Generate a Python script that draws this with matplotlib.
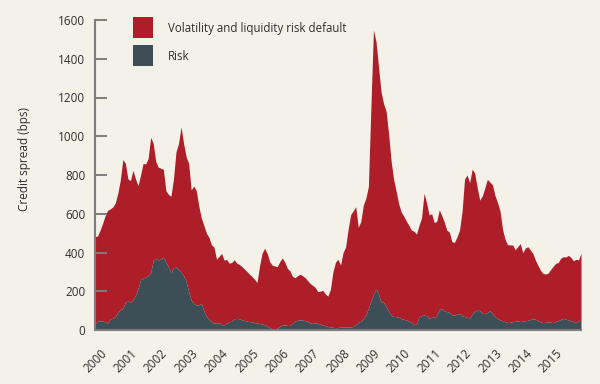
import matplotlib

matplotlib.use("Agg")

import matplotlib.pyplot as plt
import numpy as np
from matplotlib.patches import Rectangle

# monthly readings, Jan 2000 .. Jan 2016 (bps)
START_YEAR = 2000

total_spread = [
    481, 485, 515, 550, 590, 618, 625, 635, 655, 705, 774, 880,
    860, 780, 771, 825, 780, 745, 800, 860, 857, 886, 995, 963,
    870, 840, 835, 829, 719, 700, 690, 780, 920, 963, 1049, 963,
    894, 860, 723, 743, 720, 640, 578, 540, 500, 478, 440, 428,
    365, 380, 395, 361, 364, 345, 348, 362, 345, 338, 328, 315,
    302, 288, 276, 262, 245, 330, 396, 422, 396, 353, 335, 330,
    327, 353, 372, 350, 318, 305, 277, 270, 280, 288, 280, 270,
    255, 240, 230, 220, 198, 200, 205, 186, 175, 210, 300, 350,
    365, 335, 400, 428, 520, 595, 615, 636, 530, 560, 645, 680,
    740, 1150, 1548, 1490, 1360, 1230, 1168, 1130, 1010, 870, 775, 715,
    650, 608, 587, 562, 540, 515, 510, 495, 540, 578, 706, 655,
    594, 600, 555, 560, 620, 590, 557, 515, 505, 456, 452, 480,
    515, 610, 780, 800, 760, 830, 810, 735, 670, 692, 733, 778,
    763, 750, 695, 658, 615, 520, 468, 440, 439, 439, 414, 430,
    446, 399, 423, 430, 413, 395, 360, 333, 308, 292, 289, 294,
    312, 329, 344, 348, 371, 378, 377, 385, 375, 357, 365, 362,
    396,
]

risk = [
    34, 45, 48, 46, 42, 36, 58, 60, 70, 90, 105, 112,
    145, 150, 143, 155, 180, 215, 260, 268, 275, 281, 296, 360,
    370, 361, 368, 376, 350, 325, 298, 322, 325, 313, 297, 280,
    250, 198, 155, 137, 129, 130, 137, 97, 72, 56, 43, 36,
    36, 37, 28, 26, 35, 43, 45, 58, 60, 58, 52, 49,
    46, 43, 43, 38, 36, 33, 31, 27, 21, 12, 3, 3,
    10, 19, 26, 26, 23, 24, 35, 46, 50, 52, 52, 48,
    43, 36, 34, 38, 34, 30, 25, 22, 18, 16, 14, 12,
    13, 15, 15, 15, 15, 16, 18, 28, 38, 46, 60, 78,
    112, 150, 185, 212, 185, 146, 142, 122, 98, 76, 70, 69,
    65, 59, 55, 51, 46, 40, 27, 32, 68, 75, 77, 74,
    60, 66, 65, 75, 106, 110, 98, 95, 92, 77, 77, 82,
    85, 74, 70, 65, 63, 82, 97, 103, 99, 88, 84, 90,
    100, 84, 68, 60, 52, 48, 43, 38, 40, 43, 45, 48,
    44, 45, 48, 50, 54, 58, 56, 48, 42, 38, 40, 43,
    40, 38, 44, 48, 55, 60, 56, 52, 48, 43, 38, 50,
    48,
]

year_labels = [str(y) for y in range(2000, 2016)]
y_ticks = [0, 200, 400, 600, 800, 1000, 1200, 1400, 1600]

legend_labels = ["Volatility and liquidity risk default", "Risk"]

BG = "#F4F1E9"
RED = "#AD1E29"
DARK = "#3E4E57"
AXIS_GREY = "#7D7D7D"
TEXT = "#2E2E2E"

plt.rcParams["font.family"] = ["Open Sans", "DejaVu Sans"]

x = START_YEAR + np.arange(len(total_spread)) / 12.0
total = np.array(total_spread, dtype=float)
rk = np.array(risk, dtype=float)

fig = plt.figure(figsize=(6.0, 3.84), dpi=100, facecolor=BG)
ax = fig.add_axes([95 / 600, 54 / 384, 486 / 600, 310 / 384])
ax.set_facecolor(BG)

ax.fill_between(x, rk, total, color=RED, linewidth=0)
ax.fill_between(x, 0, rk, color=DARK, linewidth=0)

ax.set_xlim(x[0], x[-1])
ax.set_ylim(0, 1600)

ax.set_yticks(y_ticks)
ax.set_yticklabels([str(v) for v in y_ticks], fontsize=8.5, color=TEXT)
ax.tick_params(axis="y", direction="in", length=8.5, width=1.4, color=AXIS_GREY, pad=7)

ax.set_xticks([int(lbl) + 0.47 for lbl in year_labels])
ax.set_xticklabels(year_labels, rotation=45, ha="right", fontsize=8.5, color=TEXT)
ax.tick_params(axis="x", length=0, pad=12)

for side in ("top", "right"):
    ax.spines[side].set_visible(False)
for side in ("left", "bottom"):
    ax.spines[side].set_color(AXIS_GREY)
    ax.spines[side].set_linewidth(1.5)

fig.text(25 / 600, 1 - 159 / 384, "Credit spread (bps)", rotation=90,
         ha="center", va="center", fontsize=8.5, color=TEXT)

# legend drawn by hand, boxes + labels
for k, (label, colour) in enumerate(zip(legend_labels, [RED, DARK])):
    top = 17.5 + k * 28
    fig.add_artist(Rectangle((133 / 600, 1 - (top + 20) / 384), 20 / 600, 20 / 384,
                             transform=fig.transFigure, facecolor=colour, edgecolor="none"))
    fig.text(168 / 600, 1 - (top + 11) / 384, label, ha="left", va="center",
             fontsize=8.3, color=TEXT)

fig.savefig("out.png", dpi=100, facecolor=BG)
plt.close(fig)
